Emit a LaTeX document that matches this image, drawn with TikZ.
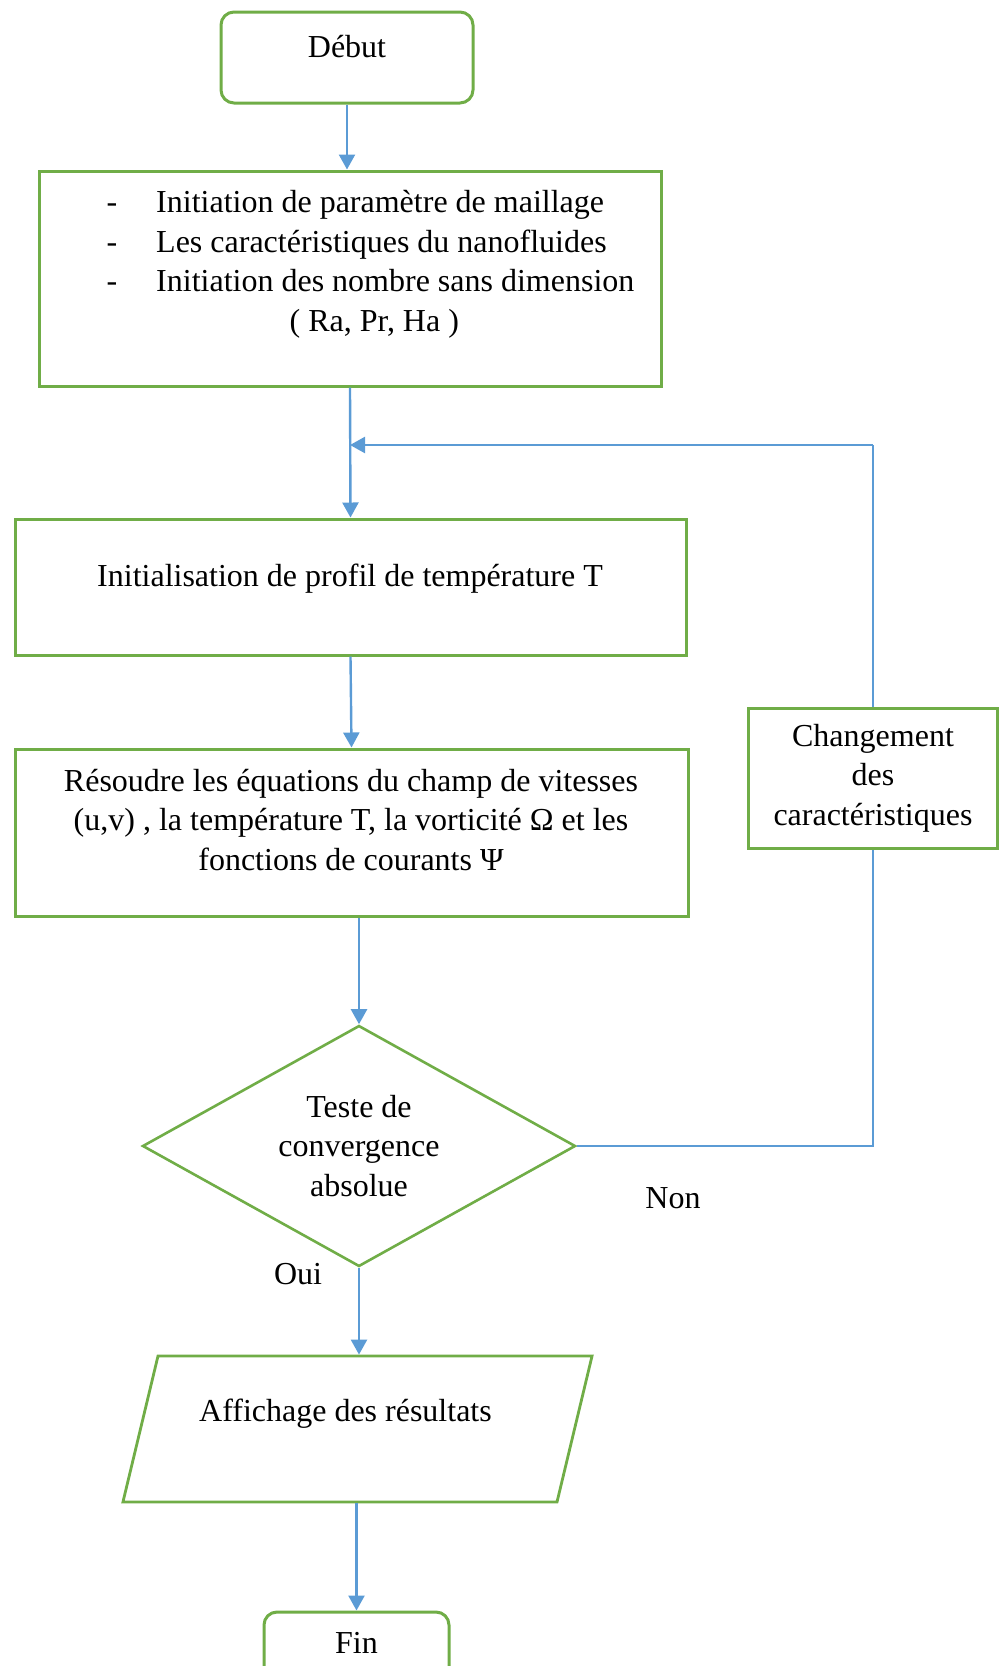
\documentclass[tikz,border=0pt]{standalone}
\usepackage{fontspec}
\setmainfont{Liberation Serif}
\usetikzlibrary{shapes.geometric,arrows.meta}
\definecolor{boxgreen}{HTML}{70AD47}
\definecolor{lineblue}{HTML}{5B9BD5}

\begin{document}
\begin{tikzpicture}[x=0.5pt,y=-0.5pt,
    every node/.style={font=\fontsize{16}{19.75}\selectfont},
    box/.style={draw=boxgreen,line width=1.5pt,rectangle,inner sep=0pt},
    endbox/.style={box,rounded corners=6.5pt},
    decision/.style={draw=boxgreen,line width=1.3pt,diamond,shape aspect=1.8,inner sep=0pt,align=center},
    iobox/.style={draw=boxgreen,line width=1.4pt,trapezium,trapezium left angle=76.5,trapezium right angle=103.5,inner xsep=99.75pt,inner ysep=36.5pt},
    arr/.style={draw=lineblue,line width=1.2pt,-{Triangle[width=8pt,length=7.5pt]}},
    link/.style={draw=lineblue,line width=0.6pt}]
    \useasboundingbox (0,0) rectangle (999,1666);

    % boxes
    \node[endbox,minimum width=126pt,minimum height=45.5pt] (debut) at (347,57.5) {};
    \node (debut-t) at (347,47) {Début};
    \node[box,minimum width=311pt,minimum height=107.5pt] (init) at (350,278.5) {};
    \node (init-t) at (370.5,264) {\begin{tabular}{@{}c@{\hspace{19.5pt}}l@{}}
        - & Initiation de paramètre de maillage\\
        - & Les caractéristiques du nanofluides\\
        - & Initiation des nombre sans dimension\\
          & \multicolumn{1}{@{}c@{}}{\hspace*{-21pt}( Ra, Pr, Ha )}
        \end{tabular}};
    \node[box,minimum width=335.5pt,minimum height=68pt] (profil) at (350.5,587) {};
    \node (profil-t) at (350,579) {Initialisation de profil de température T};
    \node[box,minimum width=336.5pt,minimum height=83.5pt] (resoudre) at (351.5,832.5) {};
    \node[align=center] (resoudre-t) at (351,820)
        {Résoudre les équations du champ de vitesses\\(u,v) , la température T, la vorticité Ω et les\\fonctions de courants Ψ};
    \node[decision,minimum width=216.5pt,minimum height=120.5pt] (test) at (359,1146)
        {Teste de\\convergence\\absolue};
    \node[box,minimum width=124.5pt,minimum height=70pt,align=center] (change) at (873,778)
        {Changement\\des\\caractéristiques};
    \node[iobox] (affiche) at (357.5,1429) {};
    \node (affiche-t) at (345.5,1414) {Affichage des résultats};
    \node[endbox,minimum width=92.5pt,minimum height=45.5pt] (fin) at (356.5,1657.5) {};
    \node (fin-t) at (356.5,1643) {Fin};

    % labels
    \node (non) at (673,1198) {Non};
    \node (oui) at (298,1274) {Oui};

    % connectors
    \coordinate (loop) at (change.north |- 0,445);
    \coordinate (join) at (init.south |- loop);
    \draw[arr] (debut.south) -- (debut.south |- init.north);
    \draw[arr] (init.south) -- (profil.north);
    \draw[arr] (profil.south) -- (resoudre.north);
    \draw[arr] (resoudre.south -| test.north) -- (test.north);
    \draw[link] (test.east) -- (test.east -| change.south) -- (change.south);
    \draw[link] (change.north) -- (loop);
    \draw[arr] (loop) -- (join);
    \draw[arr] (test.south) -- (test.south |- affiche.north);
    \draw[arr] (affiche.south -| fin.north) -- (fin.north);
\end{tikzpicture}
\end{document}
